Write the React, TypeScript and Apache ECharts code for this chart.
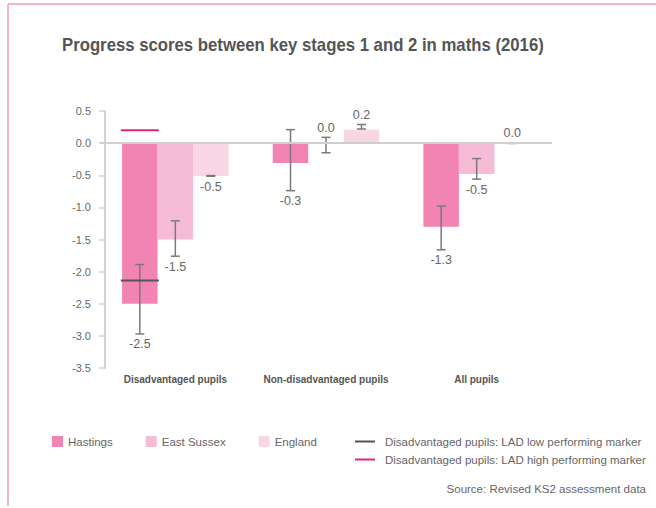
import React, { useEffect, useRef } from "react";
import * as echarts from "echarts";

const chartTitle = "Progress scores between key stages 1 and 2 in maths (2016)";
const categories = ["Disadvantaged pupils", "Non-disadvantaged pupils", "All pupils"];
const seriesNames = ["Hastings", "East Sussex", "England"];
const hastings = [-2.5, -0.31, -1.3];
const eastSussex = [-1.5, 0.0, -0.48];
const england = [-0.51, 0.21, 0.0];
const hastingsLow = [-2.97, -0.74, -1.66];
const hastingsHigh = [-1.89, 0.21, -0.98];
const eastSussexLow = [-1.76, -0.15, -0.56];
const eastSussexHigh = [-1.21, 0.09, -0.24];
const englandLow = [-0.515, 0.22, -0.005];
const englandHigh = [-0.505, 0.29, 0.005];
const lowMarkerName = "Disadvantaged pupils: LAD low performing marker";
const highMarkerName = "Disadvantaged pupils: LAD high performing marker";
const lowMarker = [-2.14];
const highMarker = [0.2];
const yMin = -3.5;
const yMax = 0.5;
const yInterval = 0.5;
const sourceText = "Source: Revised KS2 assessment data";

const FONT = "'Liberation Sans', Arial, Helvetica, sans-serif";
const colors = ["#f284b3", "#f6bcd6", "#f9d6e4"];
const BAR_W = 35.5;

const fmt = (v: number) => {
  const r = Math.round(v * 10) / 10;
  return (r === 0 ? 0 : r).toFixed(1);
};

export default function App() {
  const ref = useRef<HTMLDivElement>(null);
  useEffect(() => {
    if (!ref.current) return;
    const chart = echarts.init(ref.current, undefined, { renderer: "svg" });
    const values = [hastings, eastSussex, england];
    const lows = [hastingsLow, eastSussexLow, englandLow];
    const highs = [hastingsHigh, eastSussexHigh, englandHigh];
    const errData: number[][] = [];
    values.forEach((vals, s) => {
      vals.forEach((v, c) => {
        errData.push([c, lows[s][c], highs[s][c], v, s]);
      });
    });

    const markerSeries = (name: string, vals: number[], color: string) => ({
      type: "custom",
      name,
      itemStyle: { color },
      data: vals.map((v, i) => [i, v]),
      z: 5,
      renderItem: (params: any, api: any) => {
        const p = api.coord([api.value(0), api.value(1)]);
        const x = p[0] - BAR_W;
        return {
          type: "line",
          shape: { x1: x - 19, y1: p[1], x2: x + 19, y2: p[1] },
          style: { stroke: color, lineWidth: 2 },
        };
      },
    });

    const option: any = {
      animation: false,
      legend: [
        {
          data: seriesNames,
          left: 52,
          top: 434.5,
          itemWidth: 11,
          itemHeight: 11,
          itemGap: 33,
          icon: "rect",
          padding: 0,
          textStyle: { fontFamily: FONT, fontSize: 11.5, color: "#666", lineHeight: 14 },
        },
        {
          data: [
            { name: lowMarkerName, icon: "rect" },
            { name: highMarkerName, icon: "rect" },
          ],
          orient: "vertical",
          left: 355,
          top: 434.5,
          itemWidth: 20,
          itemHeight: 2,
          itemGap: 4,
          padding: 0,
          textStyle: { fontFamily: FONT, fontSize: 11.5, color: "#666", lineHeight: 14, padding: [0, 0, 0, 5] },
        },
      ],
      grid: { left: 100, right: 104, top: 111, bottom: 140, containLabel: false },
      xAxis: {
        type: "category",
        data: categories,
        axisLine: { show: false },
        axisTick: { show: false },
        axisLabel: { interval: 0, fontFamily: FONT, fontWeight: "bold", fontSize: 10, color: "#555", margin: 6 },
      },
      yAxis: {
        type: "value",
        min: yMin,
        max: yMax,
        interval: yInterval,
        offset: -5,
        axisLine: { show: true, lineStyle: { color: "#d2d2d2", width: 2 } },
        axisTick: { show: true, length: 6, lineStyle: { color: "#d2d2d2", width: 1.5 } },
        axisLabel: {
          formatter: (v: number) => v.toFixed(1),
          fontFamily: FONT,
          fontSize: 11,
          color: "#666",
          margin: 14,
        },
        splitLine: { show: false },
      },
      series: [
        ...values.map((vals, s) => ({
          type: "bar",
          name: seriesNames[s],
          data: vals,
          barWidth: BAR_W,
          barGap: "0%",
          itemStyle: { color: colors[s] },
          ...(s === 2
            ? {
                markLine: {
                  silent: true,
                  symbol: ["none", "none"],
                  label: { show: false },
                  lineStyle: { color: "#cfcfcf", width: 2, type: "solid" },
                  data: [{ yAxis: 0 }],
                },
              }
            : {}),
        })),
        {
          type: "custom",
          name: "errors",
          data: errData,
          z: 4,
          renderItem: (params: any, api: any) => {
            const c = api.value(0);
            const low = api.value(1);
            const high = api.value(2);
            const v = api.value(3);
            const s = api.value(4);
            const center = api.coord([c, 0]);
            const x = center[0] + (s - 1) * BAR_W;
            const yLow = api.coord([c, low])[1];
            const yHigh = api.coord([c, high])[1];
            const yVal = api.coord([c, v])[1];
            const label = fmt(v);
            const below = Math.round(v * 10) / 10 < 0;
            const stroke = "#7a7a7a";
            const half = 4.5;
            return {
              type: "group",
              children: [
                { type: "line", shape: { x1: x, y1: yHigh, x2: x, y2: yLow }, style: { stroke, lineWidth: 1.5 } },
                { type: "line", shape: { x1: x - half, y1: yHigh, x2: x + half, y2: yHigh }, style: { stroke, lineWidth: 1.5 } },
                { type: "line", shape: { x1: x - half, y1: yLow, x2: x + half, y2: yLow }, style: { stroke, lineWidth: 1.5 } },
                {
                  type: "text",
                  x,
                  y: below ? Math.max(yLow, yVal) + 4 : Math.min(yHigh, yVal) - 3,
                  style: {
                    text: label,
                    fill: "#666",
                    fontSize: 12.5,
                    fontFamily: FONT,
                    align: "center",
                    verticalAlign: below ? "top" : "bottom",
                  },
                },
              ],
            };
          },
        },
        markerSeries(lowMarkerName, lowMarker, "#555555"),
        markerSeries(highMarkerName, highMarker, "#e2227b"),
      ],
      graphic: [
        { type: "line", shape: { x1: 8, y1: 4, x2: 656, y2: 4 }, style: { stroke: "#f6b2d0", lineWidth: 2 } },
        { type: "line", shape: { x1: 8, y1: 4, x2: 8, y2: 506 }, style: { stroke: "#f39ac2", lineWidth: 1.5 } },
        {
          type: "text",
          x: 62,
          y: 36,
          scaleX: 0.93,
          style: {
            text: chartTitle,
            fill: "#555",
            fontSize: 18,
            fontWeight: "bold",
            fontFamily: FONT,
            verticalAlign: "top",
          },
        },
        {
          type: "text",
          right: 10,
          top: 483,
          style: { text: sourceText, fill: "#666", fontSize: 11.5, fontFamily: FONT },
        },
      ],
    };
    chart.setOption(option);
    return () => chart.dispose();
  }, []);
  return <div ref={ref} style={{ position: "absolute", left: 0, top: 0, width: 656, height: 508 }} />;
}
